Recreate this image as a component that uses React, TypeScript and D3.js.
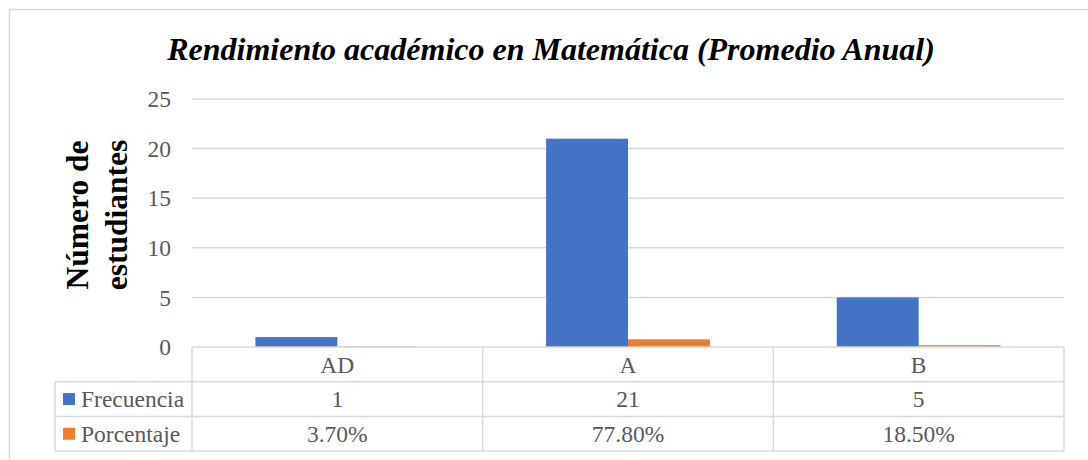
import React from 'react';
import * as d3 from 'd3';

const categories = ['AD', 'A', 'B'];
const frecuencia = [1, 21, 5];
const porcentaje = [0.037, 0.778, 0.185];
const porcentajeLabels = ['3.70%', '77.80%', '18.50%'];
const yTicks = [0, 5, 10, 15, 20, 25];
const seriesNames = ['Frecuencia', 'Porcentaje'];
const seriesColors = ['#4472C4', '#ED7D31'];

const W = 1088;
const H = 460;
const FONT = '"Liberation Serif", "Times New Roman", serif';
const GRID = '#d9d9d9';
const TEXT = '#595959';

const App: React.FC = () => {
  // zona de trazado
  const left = 192;
  const right = 1064;
  const top = 99;
  const bottom = 347;
  const rowH = 34.7;

  const y = d3.scaleLinear().domain([0, 25]).range([bottom, top]);
  const p = 0.4364;
  const x0 = d3.scaleBand<string>().domain(categories).range([left, right]).paddingInner(p).paddingOuter(p / 2);
  const x1 = d3.scaleBand<string>().domain(seriesNames).range([0, x0.bandwidth()]);
  const col = (right - left) / categories.length;
  const colCenter = (i: number) => left + col * (i + 0.5);

  const series = [frecuencia, porcentaje];
  const rowLabels = [frecuencia.map(String), porcentajeLabels];

  return (
    <svg width={W} height={H} style={{ position: 'absolute', left: 0, top: 0, background: '#fff' }} fontFamily={FONT}>
      <rect x={0} y={0} width={W} height={H} fill="#fff" />
      {/* borde del gráfico */}
      <path d={`M9.5,${H} V9.5 H${W}`} fill="none" stroke={GRID} strokeWidth={1.5} />

      <text x={551} y={60} textAnchor="middle" fontSize={32} fontWeight="bold" fontStyle="italic" fill="#000">
        Rendimiento académico en Matemática (Promedio Anual)
      </text>

      {/* título eje Y */}
      <g transform="translate(0,215) rotate(-90)" fontSize={31.5} fontWeight="bold" fill="#000" textAnchor="middle">
        <text x={0} y={88}>Número de</text>
        <text x={0} y={127}>estudiantes</text>
      </g>

      {/* cuadrícula */}
      {yTicks.map(t => (
        <g key={t}>
          {t > 0 && <line x1={left} x2={right} y1={y(t)} y2={y(t)} stroke={GRID} strokeWidth={1.5} />}
          <text x={171} y={y(t)} dy="0.35em" textAnchor="end" fontSize={23.5} fill={TEXT}>{t}</text>
        </g>
      ))}

      {/* barras */}
      {series.map((vals, si) => (
        <g key={si} fill={seriesColors[si]}>
          {vals.map((v, i) => (
            <rect
              key={i}
              x={(x0(categories[i]) as number) + (x1(seriesNames[si]) as number)}
              y={y(v)}
              width={x1.bandwidth()}
              height={bottom - y(v)}
            />
          ))}
        </g>
      ))}

      {/* tabla de datos */}
      <g stroke={GRID} strokeWidth={1.5} fill="none">
        <line x1={left} x2={right} y1={bottom} y2={bottom} />
        <line x1={55} x2={right} y1={bottom + rowH} y2={bottom + rowH} />
        <line x1={55} x2={right} y1={bottom + rowH * 2} y2={bottom + rowH * 2} />
        <line x1={55} x2={right} y1={bottom + rowH * 3} y2={bottom + rowH * 3} />
        <line x1={55} x2={55} y1={bottom + rowH} y2={bottom + rowH * 3} />
        {d3.range(categories.length + 1).map(i => (
          <line key={i} x1={left + col * i} x2={left + col * i} y1={bottom} y2={bottom + rowH * 3} />
        ))}
      </g>
      <g fontSize={23.5} fill={TEXT} textAnchor="middle">
        {categories.map((c, i) => (
          <text key={c} x={colCenter(i)} y={bottom + rowH / 2} dy="0.35em">{c}</text>
        ))}
        {rowLabels.map((row, r) =>
          row.map((s, i) => (
            <text key={`${r}-${i}`} x={colCenter(i)} y={bottom + rowH * (r + 1.5)} dy="0.35em">{s}</text>
          ))
        )}
      </g>
      {seriesNames.map((n, r) => (
        <g key={n}>
          <rect x={63} y={bottom + rowH * (r + 1.5) - 6} width={12} height={12} fill={seriesColors[r]} />
          <text x={81} y={bottom + rowH * (r + 1.5)} dy="0.35em" fontSize={23.5} fill={TEXT}>{n}</text>
        </g>
      ))}
    </svg>
  );
};

export default App;
